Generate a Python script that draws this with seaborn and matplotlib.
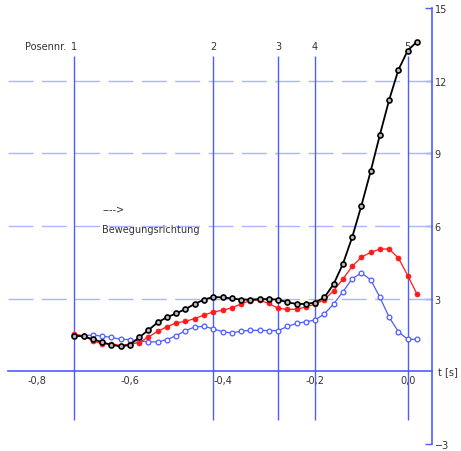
import matplotlib
matplotlib.use("Agg")
import matplotlib.pyplot as plt
import matplotlib.ticker as mticker
import pandas as pd
import seaborn as sns

# time axis [s]
t = [-0.72, -0.70, -0.68, -0.66, -0.64, -0.62, -0.60, -0.58, -0.56, -0.54,
     -0.52, -0.50, -0.48, -0.46, -0.44, -0.42, -0.40, -0.38, -0.36, -0.34,
     -0.32, -0.30, -0.28, -0.26, -0.24, -0.22, -0.20, -0.18, -0.16, -0.14,
     -0.12, -0.10, -0.08, -0.06, -0.04, -0.02, 0.00, 0.02]

black_vals = [1.47, 1.44, 1.33, 1.20, 1.09, 1.03, 1.09, 1.40, 1.70, 2.02,
              2.23, 2.39, 2.57, 2.78, 2.96, 3.07, 3.05, 3.01, 2.96, 2.96,
              2.98, 2.98, 2.96, 2.85, 2.78, 2.78, 2.84, 3.05, 3.60, 4.43,
              5.53, 6.84, 8.26, 9.77, 11.21, 12.45, 13.24, 13.61]

red_vals = [1.55, 1.45, 1.26, 1.13, 1.14, 1.06, 1.13, 1.18, 1.42, 1.65,
            1.84, 2.00, 2.06, 2.18, 2.32, 2.45, 2.52, 2.62, 2.78, 2.92,
            2.94, 2.80, 2.60, 2.56, 2.56, 2.66, 2.77, 2.96, 3.33, 3.81,
            4.33, 4.71, 4.91, 5.05, 5.05, 4.67, 3.95, 3.19]

blue_vals = [1.50, 1.47, 1.50, 1.45, 1.40, 1.32, 1.31, 1.25, 1.22, 1.21,
             1.31, 1.47, 1.68, 1.83, 1.86, 1.75, 1.64, 1.58, 1.66, 1.69,
             1.69, 1.68, 1.68, 1.85, 1.98, 2.04, 2.12, 2.37, 2.78, 3.28,
             3.82, 4.06, 3.78, 3.05, 2.23, 1.63, 1.32, 1.32]

# pose markers
pose_t = [-0.72, -0.42, -0.28, -0.20, 0.00]
pose_labels = ["1", "2", "3", "4", "5"]

x_ticks = [-0.8, -0.6, -0.4, -0.2, 0.0]
x_minor = [-0.7, -0.5, -0.3, -0.1]
y_ticks = [-3, 3, 6, 9, 12, 15]
grid_levels = [3, 6, 9, 12]

df = pd.DataFrame({"t": t, "black": black_vals, "red": red_vals, "blue": blue_vals})

AXIS_BLUE = "#4d5cff"
GRID_BLUE = "#aeb5ff"
TEXT = "#333333"

sns.set_style("white")
plt.rcParams["font.family"] = ["DejaVu Sans"]

fig = plt.figure(figsize=(4.61, 4.52), dpi=100)
ax = fig.add_axes([0, 0, 1, 1])
ax.set_xlim(-0.8806, 0.1151)
ax.set_ylim(-3.29, 15.37)

x_left, x_right = -0.863, 0.052

# dashed horizontal guides
ax.hlines(grid_levels, x_left, x_right, colors=GRID_BLUE, lw=1.0,
          linestyles=(0, (18, 6)), zorder=1)

# pose lines
ax.vlines(pose_t, -2, 13, colors=AXIS_BLUE, lw=1.0, zorder=1)
for pt, lab in zip(pose_t, pose_labels):
    ax.text(pt, 13.43, lab, ha="center", va="center", fontsize=7, color=TEXT)
ax.text(pose_t[0] - 0.017, 13.43, "Posennr.", ha="right", va="center",
        fontsize=7, color=TEXT)

# series
sns.lineplot(data=df, x="t", y="blue", ax=ax, color=AXIS_BLUE, lw=0.9,
             marker="o", markersize=3.4, markerfacecolor="white",
             markeredgecolor=AXIS_BLUE, markeredgewidth=0.9, zorder=3)
sns.lineplot(data=df, x="t", y="red", ax=ax, color="#ff1a1a", lw=0.9,
             marker="o", markersize=3.6, markerfacecolor="#ff1a1a",
             markeredgecolor="#ff1a1a", markeredgewidth=0.5, zorder=4)
sns.lineplot(data=df, x="t", y="black", ax=ax, color="black", lw=1.3,
             marker="o", markersize=3.6, markerfacecolor="#bbbbbb",
             markeredgecolor="black", markeredgewidth=1.2, zorder=5)

# axes as spines through data origin
for side in ["top", "left"]:
    ax.spines[side].set_visible(False)
ax.spines["bottom"].set_position(("data", 0))
ax.spines["bottom"].set_bounds(x_left, x_right)
ax.spines["right"].set_position(("data", x_right))
ax.spines["right"].set_bounds(-3, 15)
for side in ["bottom", "right"]:
    ax.spines[side].set_color(AXIS_BLUE)
    ax.spines[side].set_linewidth(1.2)

ax.yaxis.tick_right()
ax.set_xticks(x_ticks)
ax.set_xticks(x_minor, minor=True)
ax.set_yticks(y_ticks)
ax.xaxis.set_major_formatter(mticker.FuncFormatter(lambda v, p: f"{v:.1f}".replace(".", ",")))
ax.tick_params(axis="x", which="both", direction="in", length=5, width=1,
               color=AXIS_BLUE, labelsize=7, labelcolor=TEXT, pad=3)
ax.tick_params(axis="y", direction="in", length=5, width=1, color=AXIS_BLUE,
               labelsize=7, labelcolor=TEXT, pad=2)
ax.set_xlabel("")
ax.set_ylabel("")

ax.text(0.066, 0, "t [s]", ha="left", va="center", fontsize=7, color=TEXT)
ax.text(-0.660, 6.74, "---->", ha="left", va="center", fontsize=7, color=TEXT)
ax.text(-0.660, 5.88, "Bewegungsrichtung", ha="left", va="center", fontsize=7, color=TEXT)

fig.savefig("out.png", dpi=100)
